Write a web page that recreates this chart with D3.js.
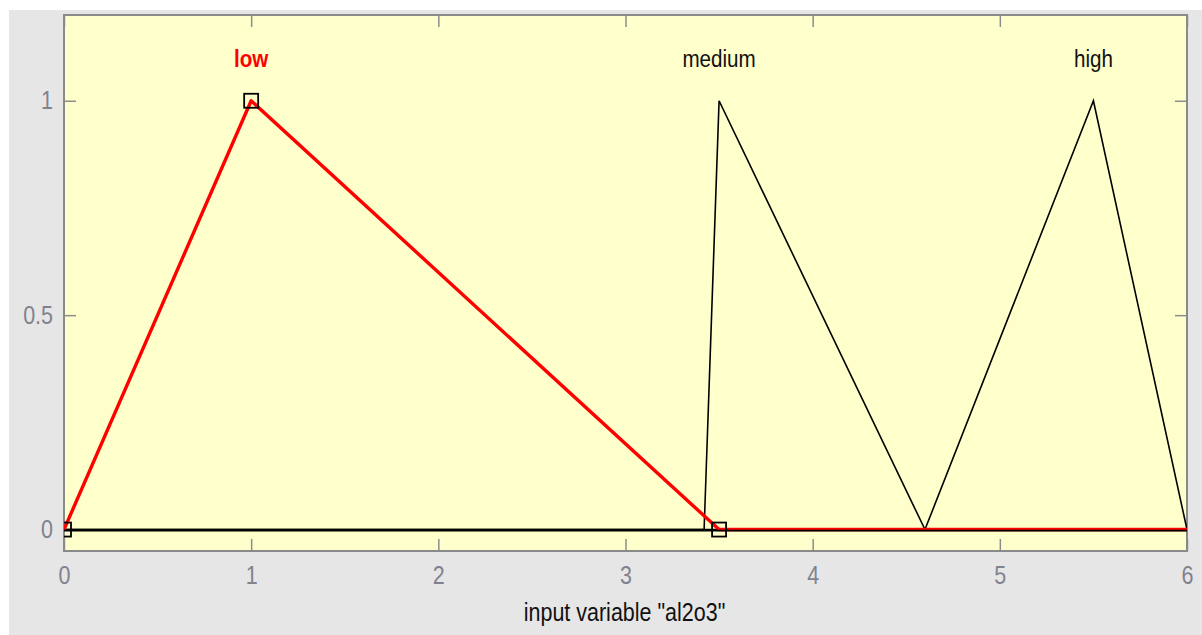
<!DOCTYPE html>
<html><head><meta charset="utf-8">
<script src="https://cdn.jsdelivr.net/npm/d3@7"></script>
<style>body{margin:0;background:#fff;overflow:hidden}</style>
</head><body><svg id="c" width="1202" height="635"></svg>
<script>
// ---- data ----
const mfNames = ["low", "medium", "high"];
const mfParams = [[0, 1, 3.5], [3.42, 3.5, 4.6], [4.6, 5.5, 6]];
const selectedMf = "low";
const xDomain = [0, 6];
const yDomain = [-0.05, 1.2];
const xTicks = [0, 1, 2, 3, 4, 5, 6];
const yTicks = [0, 0.5, 1];
const xLabel = 'input variable "al2o3"';

// ---- layout ----
const W = 1202, H = 635;
const box = {left: 64, right: 1187, top: 15, bottom: 551};
const FONT = '"Liberation Sans",Arial,sans-serif';
const SX = 0.86; // horizontal squeeze of text

const svg = d3.select("#c");
svg.append("rect").attr("x", 9).attr("y", 10).attr("width", W - 9).attr("height", H - 10).attr("fill", "#e6e6e6");
svg.append("rect").attr("x", box.left).attr("y", box.top)
  .attr("width", box.right - box.left).attr("height", box.bottom - box.top).attr("fill", "#ffffcc");

const x = d3.scaleLinear().domain(xDomain).range([box.left, box.right]);
const y = d3.scaleLinear().domain(yDomain).range([box.bottom, box.top]);

svg.append("clipPath").attr("id", "clip").append("rect")
  .attr("x", box.left).attr("y", box.top)
  .attr("width", box.right - box.left).attr("height", box.bottom - box.top);

// axes (inward ticks)
const tickLen = 12;
function styleAxis(g) {
  g.selectAll("path.domain").remove();
  g.selectAll(".tick line").attr("stroke", "#8c8c8c").attr("stroke-width", 1.5);
  g.selectAll(".tick text").attr("fill", "#80828e").style("font-family", FONT).style("font-size", "25px");
}
svg.append("g").attr("transform", `translate(0,${box.bottom})`)
  .call(d3.axisBottom(x).tickValues(xTicks).tickFormat(d3.format("d")).tickSizeInner(-tickLen).tickSizeOuter(0).tickPadding(15))
  .call(styleAxis)
  .call(g => g.selectAll(".tick text").attr("transform", `scale(${SX},1)`));
svg.append("g").attr("transform", `translate(0,${box.top})`)
  .call(d3.axisTop(x).tickValues(xTicks).tickFormat("").tickSizeInner(-tickLen).tickSizeOuter(0))
  .call(styleAxis);
svg.append("g").attr("transform", `translate(${box.left},0)`)
  .call(d3.axisLeft(y).tickValues(yTicks).tickFormat(d => d3.format("")(d)).tickSizeInner(-tickLen).tickSizeOuter(0).tickPadding(11 / SX))
  .call(styleAxis)
  .call(g => g.selectAll(".tick text").attr("transform", `scale(${SX},1)`));
svg.append("g").attr("transform", `translate(${box.right},0)`)
  .call(d3.axisRight(y).tickValues(yTicks).tickFormat("").tickSizeInner(-tickLen).tickSizeOuter(0))
  .call(styleAxis);

// frame
svg.append("rect").attr("x", box.left).attr("y", box.top)
  .attr("width", box.right - box.left).attr("height", box.bottom - box.top)
  .attr("fill", "none").attr("stroke", "#8a8a8a").attr("stroke-width", 2);

// membership functions
const line = d3.line().x(d => x(d[0])).y(d => y(d[1]));
const plot = svg.append("g").attr("clip-path", "url(#clip)");
function mfPoints(p) {
  return [[xDomain[0], 0], [p[0], 0], [p[1], 1], [p[2], 0], [xDomain[1], 0]];
}
const order = mfNames.map((n, i) => i).sort((a, b) => (mfNames[a] === selectedMf) - (mfNames[b] === selectedMf));
order.forEach(i => {
  const sel = mfNames[i] === selectedMf;
  if (sel) {
    plot.append("path").attr("d", line(mfPoints(mfParams[i])))
      .attr("fill", "none").attr("stroke", "#ff0000").attr("stroke-width", 3.4).attr("stroke-linejoin", "round");
  } else {
    plot.append("path").attr("d", line(mfPoints(mfParams[i])))
      .attr("fill", "none").attr("stroke", "#000").attr("stroke-width", 1.6);
  }
});
// baseline over red, like reference
plot.append("line").attr("x1", x(xDomain[0])).attr("x2", x(xDomain[1]))
  .attr("y1", y(0) + 1).attr("y2", y(0) + 1).attr("stroke", "#000").attr("stroke-width", 1.8);

// selected mf vertices
const selIdx = mfNames.indexOf(selectedMf);
const sp = mfParams[selIdx];
const verts = [[sp[0], 0], [sp[1], 1], [sp[2], 0]];
plot.selectAll("rect.v").data(verts).join("rect").attr("class", "v")
  .attr("x", d => x(d[0]) - 7).attr("y", d => y(d[1]) - 7)
  .attr("width", 14).attr("height", 14)
  .attr("fill", "none").attr("stroke", "#000").attr("stroke-width", 1.8);

// mf labels
svg.selectAll("text.mf").data(mfNames).join("text").attr("class", "mf")
  .attr("transform", (d, i) => `translate(${x(mfParams[i][1])},67) scale(${SX},1)`)
  .attr("text-anchor", "middle")
  .style("font-family", FONT).style("font-size", "24px")
  .style("font-weight", d => d === selectedMf ? "bold" : "normal")
  .attr("fill", d => d === selectedMf ? "#ff0000" : "#111")
  .text(d => d);

// x label
svg.append("text").attr("transform", `translate(${(box.left + box.right) / 2 - 1},621) scale(${SX},1)`)
  .attr("text-anchor", "middle")
  .style("font-family", FONT).style("font-size", "25px").attr("fill", "#111")
  .text(xLabel);
</script></body></html>
